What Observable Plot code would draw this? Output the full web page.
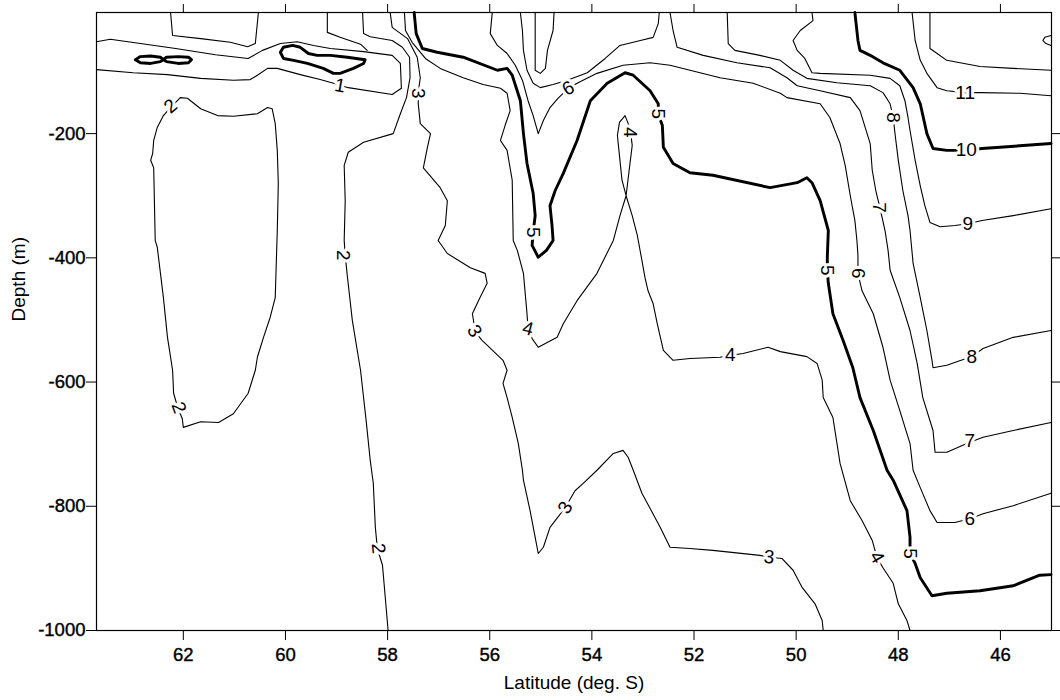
<!DOCTYPE html>
<html><head><meta charset="utf-8">
<script src="https://cdn.jsdelivr.net/npm/d3@7"></script>
<script src="https://cdn.jsdelivr.net/npm/@observablehq/plot@0.6"></script>
<style>
html,body{margin:0;padding:0;background:#fff;}
#chart{width:1060px;height:700px;}
#chart svg g[aria-label$="tick label"] text,
#chart svg g[aria-label="heavy-text"] text{stroke:#000;stroke-width:0.4px;}
</style></head><body><div id="chart"></div>
<script>
// Axis ticks
const xTicks = [62, 60, 58, 56, 54, 52, 50, 48, 46];
const yTicks = [-1000, -800, -600, -400, -200];

// Contour lines, points as [latitude (deg S), depth (m)]
// thick (0, 5, 10 deg C)
const c0Eight = [[62.94,-81],[62.84,-76],[62.64,-75],[62.45,-77],[62.39,-81],[62.33,-77],[62.10,-76],[61.90,-77],[61.84,-81],[61.90,-86],[62.10,-87],[62.33,-84],[62.39,-81],[62.45,-84],[62.64,-87],[62.84,-86],[62.94,-81]];
const c0Loop = [[60.10,-69],[60.04,-61],[59.86,-58],[59.71,-61],[59.55,-71],[59.38,-74],[59.12,-74],[58.79,-77],[58.44,-81],[58.47,-87],[58.67,-95],[58.93,-103],[59.06,-103],[59.26,-95],[59.57,-87],[59.84,-82],[60.04,-79],[60.10,-69]];
const c5 = [[57.48,-5],[57.44,-39],[57.32,-63],[57.03,-69],[56.52,-77],[55.85,-98],[55.66,-95],[55.56,-106],[55.40,-147],[55.34,-200],[55.27,-248],[55.15,-296],[55.11,-332],[55.15,-359],[55.17,-380],[55.05,-399],[54.89,-388],[54.76,-372],[54.78,-348],[54.82,-316],[54.72,-292],[54.56,-264],[54.29,-211],[54.03,-147],[53.70,-119],[53.35,-102],[53.19,-106],[52.86,-131],[52.70,-152],[52.70,-168],[52.62,-187],[52.60,-222],[52.41,-248],[52.08,-263],[51.63,-267],[50.51,-287],[49.98,-279],[49.79,-271],[49.69,-279],[49.53,-308],[49.37,-356],[49.39,-399],[49.39,-420],[49.37,-441],[49.28,-490],[49.08,-533],[48.89,-577],[48.75,-625],[48.49,-678],[48.22,-742],[48.10,-758],[47.83,-807],[47.77,-850],[47.77,-876],[47.67,-892],[47.57,-915],[47.34,-944],[47.05,-940],[46.40,-936],[45.75,-928],[45.23,-911],[45.01,-910]];
const c10 = [[48.85,-5],[48.79,-50],[48.75,-66],[48.55,-74],[48.30,-86],[47.97,-98],[47.71,-126],[47.57,-152],[47.44,-200],[47.32,-224],[47.05,-227],[46.69,-227],[46.36,-224],[45.01,-216]];

// thin
const c1 = [[63.70,-52],[63.43,-48],[62.84,-55],[62.15,-63],[61.37,-73],[60.73,-79],[60.45,-66],[60.10,-55],[59.77,-52],[59.45,-58],[59.12,-63],[58.47,-68],[57.91,-74],[57.75,-87],[57.73,-127],[57.91,-137],[58.77,-126],[59.06,-119],[59.32,-113],[59.71,-105],[60.16,-95],[60.35,-95],[60.55,-106],[60.69,-113],[61.02,-114],[61.66,-111],[62.31,-105],[62.98,-102],[63.70,-97]];
const c1Top = [[59.18,-5],[59.18,-37],[58.93,-45],[58.53,-56],[58.40,-66]];
const cCup = [[62.25,-5],[62.21,-42],[61.66,-47],[61.08,-53],[60.74,-60],[60.59,-55],[60.53,-5]];
const c2 = [[58.49,-5],[58.47,-39],[58.34,-44],[57.91,-50],[57.71,-61],[57.57,-77],[57.56,-110],[57.63,-142],[57.75,-168],[57.89,-200],[58.47,-214],[58.77,-230],[58.85,-251],[58.83,-308],[58.85,-372],[58.83,-396],[58.79,-428],[58.69,-501],[58.53,-581],[58.42,-662],[58.34,-726],[58.28,-763],[58.24,-834],[58.20,-868],[58.10,-895],[58.04,-952],[57.99,-1000]];
const c2Bulb = [[62.25,-158],[62.06,-142],[61.92,-143],[61.66,-160],[61.33,-171],[61.02,-172],[60.55,-168],[60.35,-158],[60.26,-160],[60.20,-184],[60.16,-227],[60.14,-280],[60.16,-356],[60.18,-409],[60.20,-464],[60.30,-496],[60.43,-528],[60.55,-560],[60.59,-581],[60.73,-618],[61.02,-651],[61.31,-665],[61.66,-664],[62.00,-673],[62.02,-659],[62.11,-641],[62.19,-618],[62.21,-581],[62.31,-528],[62.39,-464],[62.51,-383],[62.55,-372],[62.58,-255],[62.64,-243],[62.60,-232],[62.58,-211],[62.51,-190],[62.39,-171],[62.25,-158]];
const c3 = [[57.95,-5],[57.91,-29],[57.61,-47],[57.42,-77],[57.36,-110],[57.40,-134],[57.40,-152],[57.36,-184],[57.16,-200],[57.22,-222],[57.30,-255],[56.97,-287],[56.83,-308],[56.87,-348],[57.01,-372],[56.83,-393],[56.38,-416],[56.09,-425],[56.05,-441],[56.19,-464],[56.34,-490],[56.28,-520],[56.15,-533],[55.74,-565],[55.66,-581],[55.74,-602],[55.66,-625],[55.56,-657],[55.44,-699],[55.36,-742],[55.34,-758],[55.21,-807],[55.11,-850],[55.05,-876],[54.95,-866],[54.82,-834],[54.52,-802],[54.33,-775],[54.17,-763],[53.90,-742],[53.58,-715],[53.39,-710],[53.29,-721],[53.19,-742],[53.02,-779],[52.66,-834],[52.47,-866],[52.08,-868],[51.63,-871],[50.71,-879],[50.51,-882],[50.28,-884],[50.06,-903],[49.88,-931],[49.63,-957],[49.49,-984],[49.47,-1000]];
const c4 = [[57.67,-5],[57.65,-34],[57.52,-53],[57.26,-79],[56.97,-95],[56.52,-110],[56.13,-121],[55.79,-127],[55.66,-135],[55.60,-163],[55.70,-187],[55.79,-211],[55.66,-227],[55.56,-275],[55.54,-372],[55.46,-388],[55.34,-425],[55.27,-490],[55.25,-514],[55.17,-530],[55.05,-544],[54.68,-528],[54.56,-506],[54.29,-469],[53.90,-425],[53.58,-372],[53.45,-332],[53.33,-300],[53.27,-259],[53.21,-219],[53.25,-192],[53.35,-171],[53.46,-182],[53.50,-203],[53.46,-235],[53.41,-275],[53.33,-300],[53.21,-332],[53.11,-364],[53.02,-404],[52.96,-432],[52.90,-453],[52.80,-474],[52.72,-506],[52.60,-549],[52.41,-565],[52.08,-562],[51.49,-560],[51.29,-557],[51.04,-554],[50.55,-544],[50.31,-551],[49.79,-559],[49.59,-570],[49.49,-597],[49.47,-625],[49.28,-657],[49.14,-731],[48.94,-791],[48.71,-823],[48.51,-855],[48.42,-882],[48.30,-899],[48.10,-924],[48.00,-957],[47.83,-984],[47.77,-1000]];
const c6 = [[55.95,-5],[55.99,-39],[55.85,-58],[55.66,-71],[55.50,-90],[55.36,-114],[55.25,-147],[55.15,-171],[55.05,-200],[54.95,-179],[54.82,-158],[54.66,-143],[54.46,-127],[54.27,-118],[53.90,-103],[53.39,-90],[52.86,-86],[52.47,-90],[51.49,-110],[50.84,-119],[50.31,-135],[50.18,-142],[49.53,-152],[49.34,-174],[49.14,-216],[49.04,-251],[48.94,-300],[48.85,-340],[48.81,-372],[48.79,-396],[48.79,-425],[48.71,-453],[48.49,-490],[48.30,-544],[48.16,-597],[47.97,-646],[47.77,-699],[47.71,-742],[47.57,-770],[47.38,-807],[47.24,-826],[46.89,-826],[46.60,-820],[46.34,-812],[45.75,-799],[45.01,-779]];
const c7U = [[55.40,-5],[55.36,-34],[55.34,-66],[55.27,-98],[55.15,-119],[55.01,-126],[54.76,-121],[54.48,-114],[54.09,-102],[53.74,-79],[53.45,-58],[53.05,-50],[52.80,-45],[52.70,-23],[52.68,-5]];
const cTongue = [[55.11,-5],[55.11,-98],[55.01,-103],[54.91,-95],[54.87,-66],[54.76,-34],[54.74,-5]];
const c7 = [[52.47,-5],[52.41,-34],[52.33,-61],[51.82,-74],[51.16,-86],[50.51,-94],[50.18,-110],[49.98,-123],[49.53,-131],[48.94,-142],[48.75,-163],[48.55,-216],[48.51,-259],[48.44,-292],[48.36,-319],[48.26,-356],[48.20,-388],[48.16,-420],[47.97,-464],[47.77,-517],[47.63,-570],[47.52,-625],[47.32,-678],[47.28,-713],[47.05,-713],[46.60,-697],[46.34,-689],[45.75,-678],[45.01,-665]];
const c8 = [[51.35,-5],[51.33,-55],[51.20,-66],[50.71,-74],[50.31,-82],[50.06,-98],[49.79,-111],[49.20,-118],[48.55,-123],[48.30,-134],[48.16,-152],[48.10,-174],[48.06,-203],[48.00,-243],[47.91,-292],[47.81,-332],[47.77,-356],[47.71,-409],[47.57,-464],[47.44,-517],[47.34,-565],[47.32,-577],[47.05,-573],[46.56,-559],[46.34,-546],[45.75,-528],[45.01,-517]];
const c9 = [[49.69,-5],[49.67,-18],[49.92,-34],[50.06,-50],[49.98,-66],[49.83,-79],[49.69,-102],[49.53,-103],[48.55,-106],[48.16,-111],[47.97,-123],[47.87,-147],[47.81,-174],[47.77,-195],[47.67,-243],[47.57,-284],[47.48,-316],[47.38,-343],[47.18,-350],[46.89,-348],[46.64,-345],[46.36,-340],[45.75,-332],[45.01,-321]];
const c11 = [[47.73,-5],[47.67,-50],[47.57,-82],[47.44,-103],[47.24,-126],[47.05,-131],[46.69,-134],[46.40,-134],[45.62,-135],[45.01,-139]];
const c12 = [[47.38,-5],[47.38,-63],[47.24,-71],[47.05,-82],[46.40,-92],[45.75,-95],[45.01,-98]];
const cEdge = [[45.01,-42],[45.13,-45],[45.17,-50],[45.11,-55],[45.01,-58]];

// Contour labels: [text, latitude, depth, angle]
const contourLabels = [
  ["1", 58.93, -123, 10],
  ["2", 62.25, -156, -40],
  ["2", 62.09, -641, 70],
  ["2", 58.87, -396, 90],
  ["2", 58.18, -868, 85],
  ["3", 57.40, -135, 90],
  ["3", 56.30, -518, 60],
  ["3", 54.52, -802, -60],
  ["3", 50.53, -882, 5],
  ["4", 55.25, -514, 15],
  ["4", 53.25, -198, 90],
  ["4", 51.29, -557, 0],
  ["4", 48.42, -882, 60],
  ["5", 55.15, -359, 90],
  ["5", 52.70, -168, 90],
  ["5", 49.39, -420, 90],
  ["5", 47.77, -876, 90],
  ["6", 54.46, -127, -30],
  ["6", 48.79, -425, 90],
  ["6", 46.60, -820, 0],
  ["7", 48.38, -319, 90],
  ["7", 46.60, -695, 0],
  ["8", 48.10, -174, 90],
  ["8", 46.56, -559, 0],
  ["9", 46.64, -345, 0],
  ["10", 46.67, -227, 0],
  ["11", 46.69, -134, 0]
];

const thickSet = {c0Eight, c0Loop, c5, c10};
const thinSet = {c1, c1Top, cCup, c2, c2Bulb, c3, c4, c6, c7U, cTongue, c7, c8, c9, c11, c12, cEdge};
const toRows = set => Object.entries(set).flatMap(([id, pts]) => pts.map(([lat, depth]) => ({id, lat, depth})));
const thickRows = toRows(thickSet);
const thinRows = toRows(thinSet);
const labelRows = contourLabels.map(([t, lat, depth, a]) => ({t, lat, depth, a}));

const chart = Plot.plot({
  width: 1060, height: 700,
  marginLeft: 96, marginRight: 9, marginTop: 12, marginBottom: 70,
  style: {fontFamily: "'Liberation Sans', Arial, sans-serif", fontSize: "18.5px", color: "black", background: "white"},
  x: {domain: [63.7, 45.0]},
  y: {domain: [-1000, -5]},
  marks: [
    Plot.line(thinRows, {x: "lat", y: "depth", z: "id", stroke: "black", strokeWidth: 1.1}),
    Plot.line(thickRows, {x: "lat", y: "depth", z: "id", stroke: "black", strokeWidth: 2.9}),
    Plot.text(labelRows, {x: "lat", y: "depth", text: "t", rotate: "a", fontSize: 19, fill: "white", stroke: "white", strokeWidth: 6}),
    Plot.text(labelRows, {x: "lat", y: "depth", text: "t", rotate: "a", fontSize: 19, fill: "black", ariaLabel: "heavy-text"}),
    Plot.frame({stroke: "black", strokeWidth: 1.2}),
    Plot.axisX({anchor: "bottom", ticks: xTicks, tickSize: 10, tickPadding: 7, tickFormat: d => String(d), label: null, fontSize: 18.5}),
    Plot.axisX({anchor: "top", ticks: xTicks, tickSize: 9, tickFormat: () => "", label: null}),
    Plot.axisY({anchor: "left", ticks: yTicks, tickSize: 10, tickPadding: 1, tickFormat: d => String(d), label: null, fontSize: 18.5}),
    Plot.axisY({anchor: "right", ticks: yTicks, tickSize: 9, tickFormat: () => "", label: null}),
    Plot.text(["Latitude (deg. S)"], {text: d => d, frameAnchor: "bottom", dy: 58, fontSize: 19, ariaLabel: "heavy-text"}),
    Plot.text(["Depth (m)"], {text: d => d, frameAnchor: "left", dx: -78, rotate: -90, fontSize: 19, ariaLabel: "heavy-text"})
  ]
});
document.getElementById("chart").appendChild(chart);
</script></body></html>
